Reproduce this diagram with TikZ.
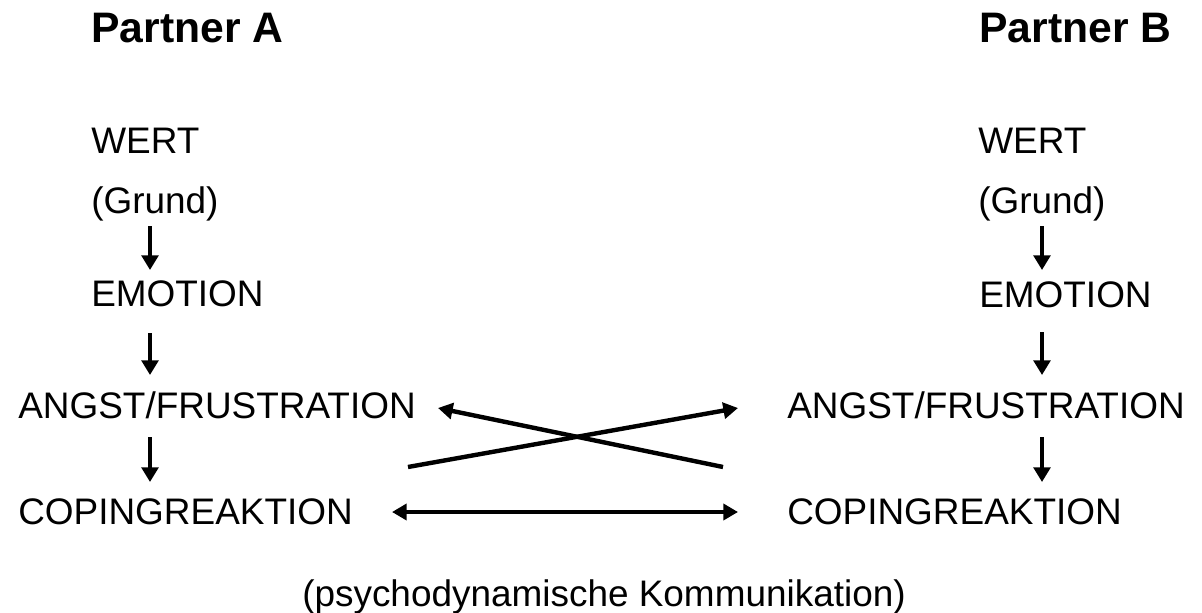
\documentclass[tikz,border=0pt]{standalone}
\usepackage{fontspec}
\setmainfont{Liberation Sans}
\usetikzlibrary{arrows.meta,calc}
\begin{document}
\begin{tikzpicture}[x=0.75pt,y=-0.75pt,
  lbl/.style={anchor=base west,inner sep=0pt,font=\fontsize{27.7}{33}\selectfont},
  head/.style={anchor=base west,inner sep=0pt,font=\fontsize{32}{38}\selectfont\bfseries},
  arr/.style={line width=3.6pt,-{Triangle[width=12.5pt,length=11pt]}},
  xarr/.style={line width=3.3pt,-{Triangle[width=12pt,length=11pt]}},
  darr/.style={line width=3.3pt,{Triangle[width=12pt,length=11pt]}-{Triangle[width=12pt,length=11pt]}}]
\useasboundingbox (0,0) rectangle (1202,613);
\node[head] (pA) at (91,43) {Partner A};
\node[head] (pB) at (979,43) {Partner B};
\node[lbl] (wertA) at (91,154) {WERT};
\node[lbl] (grundA) at (91,213) {(Grund)};
\node[lbl] (emoA) at (91,306) {EMOTION};
\node[lbl] (angA) at (18,418) {ANGST/FRUSTRATION};
\node[lbl] (copA) at (18,524) {COPINGREAKTION};
\node[lbl] (wertB) at (978,154) {WERT};
\node[lbl] (grundB) at (978,213) {(Grund)};
\node[lbl] (emoB) at (979,307) {EMOTION};
\node[lbl] (angB) at (787,418) {ANGST/FRUSTRATION};
\node[lbl] (copB) at (787,524) {COPINGREAKTION};
\node[lbl,anchor=base] (psy) at (604,606) {(psychodynamische Kommunikation)};
% Partner A chain
\draw[arr] ($(grundA.base west)+(59,13)$) -- ($(emoA.base west)+(59,-36)$);
\draw[arr] ($(emoA.base west)+(59,27)$) -- ($(angA.base west)+(132,-43)$);
\draw[arr] ($(angA.base west)+(132,19)$) -- ($(copA.base west)+(132,-42)$);
% Partner B chain
\draw[arr] ($(grundB.base west)+(64,13)$) -- ($(emoB.base west)+(63,-37)$);
\draw[arr] ($(emoB.base west)+(63,25)$) -- ($(angB.base west)+(255,-43)$);
\draw[arr] ($(angB.base west)+(255,19)$) -- ($(copB.base west)+(255,-42)$);
% cross
\draw[xarr] ($(copA.base west)+(390,-57)$) -- ($(angB.base west)+(-49,-10)$);
\draw[xarr] ($(copB.base west)+(-64,-57)$) -- ($(angA.base west)+(420,-10)$);
% bottom
\draw[darr] ($(copA.base west)+(374,-12)$) -- ($(copB.base west)+(-49,-12)$);
\end{tikzpicture}
\end{document}
